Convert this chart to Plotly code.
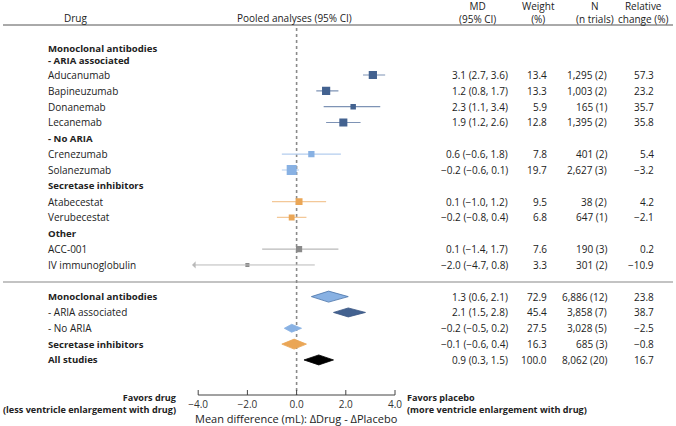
import plotly.graph_objects as go

# ---------------- data ----------------
drugs = ["Aducanumab", "Bapineuzumab", "Donanemab", "Lecanemab",
         "Crenezumab", "Solanezumab", "Atabecestat", "Verubecestat",
         "ACC-001", "IV immunoglobulin"]
drug_rows = [0, 1, 2, 3, 5, 6, 8, 9, 11, 12]
drug_group = ["aria", "aria", "aria", "aria", "noaria", "noaria", "sec", "sec", "other", "other"]
md = [3.1, 1.2, 2.3, 1.9, 0.6, -0.2, 0.1, -0.2, 0.1, -2.0]
lo = [2.7, 0.8, 1.1, 1.2, -0.6, -0.6, -1.0, -0.8, -1.4, -4.7]
hi = [3.6, 1.7, 3.4, 2.6, 1.8, 0.1, 1.2, 0.4, 1.7, 0.8]
weight = [13.4, 13.3, 5.9, 12.8, 7.8, 19.7, 9.5, 6.8, 7.6, 3.3]
n_text = ["1,295 (2)", "1,003 (2)", "165 (1)", "1,395 (2)", "401 (2)", "2,627 (3)",
          "38 (2)", "647 (1)", "190 (3)", "301 (2)"]
rel = [57.3, 23.2, 35.7, 35.8, 5.4, -3.2, 4.2, -2.1, 0.2, -10.9]

group_labels = ["- No ARIA", "Secretase inhibitors", "Other"]
group_rows = [4, 7, 10]

sum_labels = ["Monoclonal antibodies", "- ARIA associated", "- No ARIA",
              "Secretase inhibitors", "All studies"]
sum_rows = [14, 15, 16, 17, 18]
sum_bold = [True, False, False, True, True]
sum_group = ["mab", "aria", "noaria", "sec", "all"]
sum_md = [1.3, 2.1, -0.2, -0.1, 0.9]
sum_lo = [0.6, 1.5, -0.5, -0.6, 0.3]
sum_hi = [2.1, 2.8, 0.2, 0.4, 1.5]
sum_weight = [72.9, 45.4, 27.5, 16.3, 100.0]
sum_n = ["6,886 (12)", "3,858 (7)", "3,028 (5)", "685 (3)", "8,062 (20)"]
sum_rel = [23.8, 38.7, -2.5, -0.8, 16.7]

x_ticks = [-4.0, -2.0, 0.0, 2.0, 4.0]

# ---------------- styles ----------------
W, H = 676, 426
FONT = "Open Sans"
TXT = "#222222"
fill_col = {"aria": "#436290", "noaria": "#88b1e3", "sec": "#eaa656",
            "other": "#8a8a8a", "mab": "#88b1e3", "all": "#000000"}
line_col = {"aria": "#7e93b5", "noaria": "#b3cdee", "sec": "#f3c898",
            "other": "#b9b9b9"}
edge_col = {"mab": "#4a73a8", "aria": "#3a5683", "noaria": "#88b1e3",
            "sec": "#eaa656", "all": "#000000"}
diamond_h = {"mab": 11, "aria": 9, "noaria": 8, "sec": 10, "all": 10}

Y0, DY = 75.0, 15.83   # pixel y of row 0, row spacing
AXIS_Y = 395.0
PLOT_BOTTOM = 397.0
X_ZERO_PX, PX_PER_UNIT = 296.6, 24.6
XR = 4.5
BOLD_W = 700


def ry(r):
    return Y0 + r * DY


def fmt(v, d=1):
    s = f"{v:.{d}f}"
    return s.replace("-", "\u2212")


def md_str(m, l, h):
    return f"{fmt(m)} ({fmt(l)}, {fmt(h)})"


fig = go.Figure()

# dashed zero line
fig.add_shape(type="line", x0=0, x1=0, y0=28, y1=AXIS_Y, xref="x", yref="y",
              line=dict(color="#8a8a8a", width=1.6, dash="dot"), layer="below")

# CI lines and squares
annotations = []
for i, d in enumerate(drugs):
    g = drug_group[i]
    y = ry(drug_rows[i])
    if lo[i] < -XR + 0.2:
        annotations.append(dict(x=-4.25, y=y, ax=hi[i], ay=y, xref="x", yref="y",
                                axref="x", ayref="y", showarrow=True, arrowhead=1,
                                arrowsize=1.2, arrowwidth=1, arrowcolor=line_col[g], text=""))
    else:
        fig.add_trace(go.Scatter(x=[lo[i], hi[i]], y=[y, y], mode="lines",
                                 line=dict(color=line_col[g], width=1.2),
                                 hoverinfo="skip", showlegend=False))
    fig.add_trace(go.Scatter(x=[md[i]], y=[y], mode="markers",
                             marker=dict(symbol="square", size=2.25 * weight[i] ** 0.5,
                                         color=fill_col[g], line=dict(width=0)),
                             showlegend=False, hoverinfo="skip"))

# summary diamonds
for i, lab in enumerate(sum_labels):
    g = sum_group[i]
    y = ry(sum_rows[i])
    h = diamond_h[g] / 2
    fig.add_trace(go.Scatter(x=[sum_lo[i], sum_md[i], sum_hi[i], sum_md[i], sum_lo[i]],
                             y=[y, y - h, y, y + h, y], mode="lines", fill="toself",
                             fillcolor=fill_col[g], line=dict(color=edge_col[g], width=0.8),
                             showlegend=False, hoverinfo="skip"))

# x-axis line from -4 to 4, and ticks pointing up
fig.add_shape(type="line", x0=x_ticks[0], x1=x_ticks[-1], y0=AXIS_Y, y1=AXIS_Y,
              xref="x", yref="y", line=dict(color="#444444", width=1))
for t in x_ticks:
    fig.add_shape(type="line", x0=t, x1=t, y0=AXIS_Y, y1=AXIS_Y - 5,
                  xref="x", yref="y", line=dict(color="#444444", width=1))

# horizontal rules
fig.add_shape(type="line", x0=3 / W, x1=673 / W, y0=25, y1=25, xref="paper", yref="y",
              line=dict(color="#555555", width=1))
fig.add_shape(type="line", x0=3 / W, x1=673 / W, y0=282, y1=282, xref="paper", yref="y",
              line=dict(color="#888888", width=1.2))


def px(xp):
    return xp / W


def py(ypx):
    return 1 - ypx / H


def add_text(text, xp, ypx, anchor="left", size=10, bold=False, color=TXT):
    annotations.append(dict(text=text, x=px(xp), y=py(ypx),
                            xref="paper", yref="paper", xanchor=anchor, yanchor="middle",
                            showarrow=False, align=anchor, borderpad=0,
                            font=dict(family=FONT, size=size, color=color,
                                      weight=BOLD_W if bold else "normal")))


# headers
add_text("Drug", 75, 18, "center")
add_text("Pooled analyses (95% CI)", 294, 18, "center")
add_text("MD<br>(95% CI)", 477, 12.5, "center")
add_text("Weight<br>(%)", 538, 12.5, "center")
add_text("N<br>(n trials)", 595, 12.5, "center")
add_text("Relative<br>change (%)", 643, 12.5, "center")

LBL_X = 47
BS = 9.6
add_text("Monoclonal antibodies<br>- ARIA associated", LBL_X, 54, "left", size=BS, bold=True)

# column right edges
MD_R, WT_R, N_R, REL_R = 509, 548, 608, 655

for i, d in enumerate(drugs):
    y = ry(drug_rows[i])
    add_text(d, LBL_X, y)
    add_text(md_str(md[i], lo[i], hi[i]), MD_R, y, "right")
    add_text(fmt(weight[i]), WT_R, y, "right")
    add_text(n_text[i], N_R, y, "right")
    add_text(fmt(rel[i]), REL_R, y, "right")

for lab, r in zip(group_labels, group_rows):
    add_text(lab, LBL_X, ry(r), size=BS, bold=True)

for i, lab in enumerate(sum_labels):
    y = ry(sum_rows[i])
    add_text(lab, LBL_X, y, size=BS if sum_bold[i] else 10, bold=sum_bold[i])
    add_text(md_str(sum_md[i], sum_lo[i], sum_hi[i]), MD_R, y, "right")
    add_text(fmt(sum_weight[i]), WT_R, y, "right")
    add_text(sum_n[i], N_R, y, "right")
    add_text(fmt(sum_rel[i]), REL_R, y, "right")

# footer
add_text("Favors drug<br>(less ventricle enlargement with drug)", 178, 403.5, "right",
         size=9.1, bold=True)
add_text("Favors placebo<br>(more ventricle enlargement with drug)", 406, 403.5, "left",
         size=9.1, bold=True)
add_text("Mean difference (mL): \u0394Drug - \u0394Placebo", X_ZERO_PX, 418.3, "center", size=11)

x_left = X_ZERO_PX - XR * PX_PER_UNIT
x_right = X_ZERO_PX + XR * PX_PER_UNIT

fig.update_layout(
    width=W, height=H, margin=dict(l=0, r=0, t=0, b=0, autoexpand=False),
    paper_bgcolor="white", plot_bgcolor="white",
    font=dict(family=FONT, size=10, color=TXT),
    showlegend=False,
    annotations=annotations,
    xaxis=dict(domain=[x_left / W, x_right / W], range=[-XR, XR],
               tickvals=x_ticks, ticktext=[fmt(v) for v in x_ticks],
               ticks="", ticklabelstandoff=0,
               showgrid=False, zeroline=False, showline=False, automargin=False,
               tickfont=dict(family=FONT, size=10, color="#333333"), fixedrange=True),
    yaxis=dict(domain=[1 - PLOT_BOTTOM / H, 1], range=[PLOT_BOTTOM, 0], visible=False,
               automargin=False, showgrid=False, zeroline=False, fixedrange=True),
)

fig.write_html("out.html", config={"displayModeBar": False},
               post_script="document.body.style.margin='0';")
